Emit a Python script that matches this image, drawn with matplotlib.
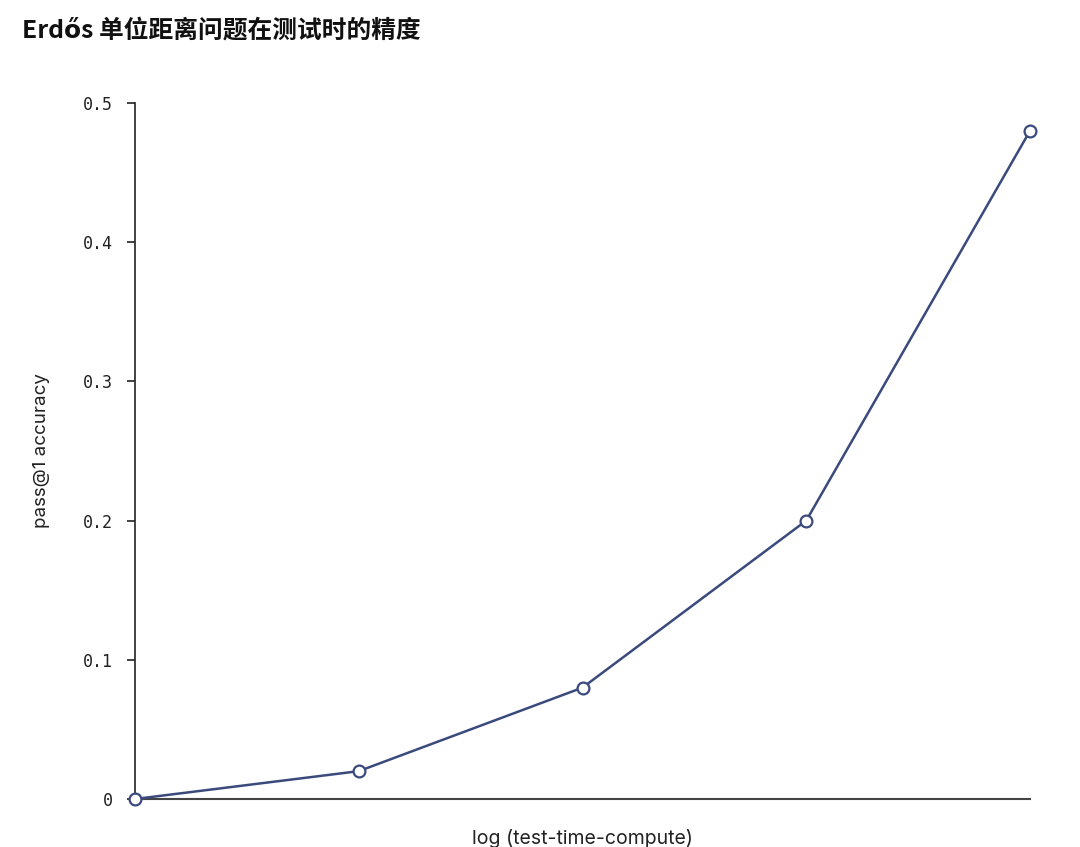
import matplotlib
matplotlib.use("Agg")
import matplotlib.pyplot as plt

x_vals = [0, 1, 2, 3, 4]
accuracy = [0.0, 0.02, 0.08, 0.20, 0.48]
y_ticks = [0, 0.1, 0.2, 0.3, 0.4, 0.5]
y_tick_labels = ["0", "0.1", "0.2", "0.3", "0.4", "0.5"]
title = "Erdős 单位距离问题在测试时的精度"
xlabel = "log (test-time-compute)"
ylabel = "pass@1 accuracy"

plt.rcParams['font.family'] = ['Noto Sans CJK SC', 'DejaVu Sans']

fig = plt.figure(figsize=(10.8, 8.47), dpi=100)
ax_w = (1030 - 135)
ax_h = (799 - 103)
ax = fig.add_axes([135/1080, 1 - 799/847, ax_w/1080, ax_h/847])

line_color = "#3b4a7c"
ax.plot(x_vals, accuracy, color=line_color, lw=1.8, marker='o', ms=8.5,
        markerfacecolor='white', markeredgecolor=line_color, markeredgewidth=1.6,
        clip_on=False, zorder=3)

ax.set_xlim(0, 4)
ax.set_ylim(0, 0.5)
ax.set_yticks(y_ticks)
ax.set_yticklabels(y_tick_labels, family='DejaVu Sans Mono', fontsize=12, color='#222222')
ax.set_xticks([])
ax.tick_params(axis='y', length=6, width=1.2, pad=10, color='#222222')

for s in ['top', 'right']:
    ax.spines[s].set_visible(False)
ax.spines['left'].set_color('#222222')
ax.spines['left'].set_linewidth(1.2)
ax.spines['bottom'].set_color('#444444')
ax.spines['bottom'].set_linewidth(1.5)

ax.set_ylabel(ylabel, family=['Inter', 'DejaVu Sans'], fontsize=13.5, color='#222222', va='center')
ax.yaxis.set_label_coords((42 - 135) / ax_w, 0.5)
ax.set_xlabel(xlabel, family=['Inter', 'DejaVu Sans'], fontsize=14, color='#222222', va='center')
ax.xaxis.set_label_coords(0.5, -(838 - 799) / ax_h)

fig.text(22/1080, 1 - 31/847, title, fontsize=17.8, fontweight='bold', va='center', ha='left',
         color='#111111')

fig.savefig("out.png", dpi=100, facecolor='white')
